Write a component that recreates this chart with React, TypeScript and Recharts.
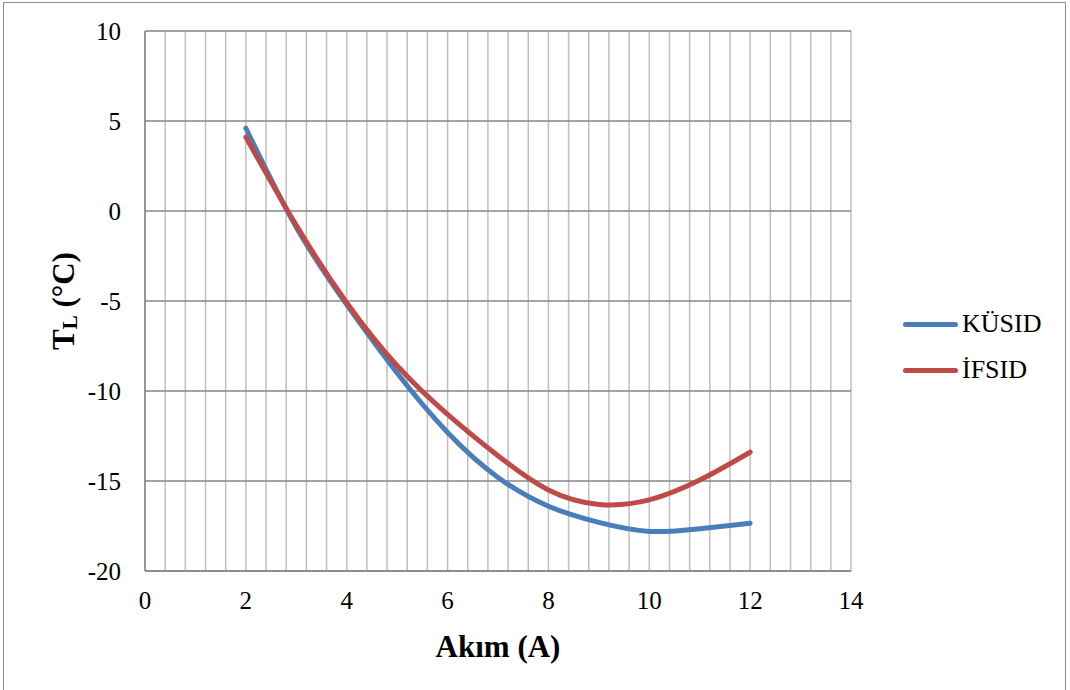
import React from "react";
import { LineChart, Line, XAxis, YAxis, CartesianGrid } from "recharts";

const akim = [2, 3, 4, 5, 6, 7, 8, 9, 10, 11, 12];
const kusid = [4.6, -0.9, -5.2, -9.0, -12.3, -14.8, -16.4, -17.3, -17.8, -17.65, -17.35];
const ifsid = [4.1, -0.8, -5.1, -8.6, -11.3, -13.6, -15.5, -16.3, -16.05, -14.95, -13.4];

const xTicks = [
  0, 0.4, 0.8, 1.2, 1.6, 2, 2.4, 2.8, 3.2, 3.6, 4, 4.4, 4.8, 5.2, 5.6, 6, 6.4,
  6.8, 7.2, 7.6, 8, 8.4, 8.8, 9.2, 9.6, 10, 10.4, 10.8, 11.2, 11.6, 12, 12.4,
  12.8, 13.2, 13.6, 14,
];
const xLabels = [0, 2, 4, 6, 8, 10, 12, 14];
const yTicks = [-20, -15, -10, -5, 0, 5, 10];

const data = akim.map((x, i) => ({ x, kusid: kusid[i], ifsid: ifsid[i] }));

const FONT = "Liberation Serif, DejaVu Serif, serif";
const BLUE = "#4a7ebb";
const RED = "#be4b48";

const series = [
  { key: "kusid", name: "KÜSID", color: BLUE },
  { key: "ifsid", name: "İFSID", color: RED },
];

function LegendBox() {
  return (
    <div
      style={{
        position: "absolute",
        left: 903,
        top: 301,
        fontFamily: FONT,
        fontSize: 26,
        color: "#000",
      }}
    >
      {series.map((s) => (
        <div
          key={s.key}
          style={{ display: "flex", alignItems: "center", height: 46 }}
        >
          <div
            style={{
              width: 55,
              height: 5,
              borderRadius: 3,
              background: s.color,
              marginRight: 4,
            }}
          />
          <span>{s.name}</span>
        </div>
      ))}
    </div>
  );
}

export default function App() {
  return (
    <div
      style={{
        position: "absolute",
        left: 0,
        top: 0,
        width: 1070,
        height: 690,
        background: "#fff",
        fontFamily: FONT,
      }}
    >
      <div
        style={{
          position: "absolute",
          left: 3,
          top: 2,
          width: 1063,
          height: 690,
          border: "1px solid #8e8e8e",
          boxSizing: "border-box",
        }}
      />
      <LineChart
        width={1070}
        height={690}
        data={data}
        margin={{ top: 31, right: 219, bottom: 0, left: 0 }}
      >
        <CartesianGrid horizontal={false} stroke="#bfbfbf" strokeWidth={1.5} />
        <CartesianGrid vertical={false} stroke="#868686" strokeWidth={1.5} />
        <XAxis
          dataKey="x"
          type="number"
          domain={[0, 14]}
          ticks={xTicks}
          interval={0}
          height={119}
          tickLine={false}
          tickMargin={14}
          axisLine={{ stroke: "#868686", strokeWidth: 1.5 }}
          tick={{ fontSize: 25, fill: "#000", fontFamily: FONT }}
          tickFormatter={(v: number) => (xLabels.includes(v) ? String(v) : "")}
          label={{
            value: "Akım (A)",
            position: "insideBottom",
            offset: 33,
            fontFamily: FONT,
            fontSize: 31,
            fontWeight: "bold",
            fill: "#000",
          }}
        />
        <YAxis
          type="number"
          domain={[-20, 10]}
          ticks={yTicks}
          interval={0}
          width={145}
          tickLine={false}
          tickMargin={18}
          axisLine={{ stroke: "#868686", strokeWidth: 1.5 }}
          tick={{ fontSize: 25, fill: "#000", fontFamily: FONT }}
          label={() => {
            const cx = 63;
            const cy = 301;
            return (
              <text
                x={cx}
                y={cy}
                transform={`rotate(-90 ${cx} ${cy})`}
                textAnchor="middle"
                dominantBaseline="central"
                fontFamily={FONT}
                fontSize={31}
                fontWeight="bold"
                fill="#000"
              >
                T
                <tspan fontSize={21} dy={7}>
                  L
                </tspan>
                <tspan dy={-7}> (°C)</tspan>
              </text>
            );
          }}
        />
        {series.map((s) => (
          <Line
            key={s.key}
            dataKey={s.key}
            name={s.name}
            type="natural"
            stroke={s.color}
            strokeWidth={5}
            strokeLinecap="round"
            dot={false}
            activeDot={false}
            isAnimationActive={false}
          />
        ))}
      </LineChart>
      <LegendBox />
    </div>
  );
}
